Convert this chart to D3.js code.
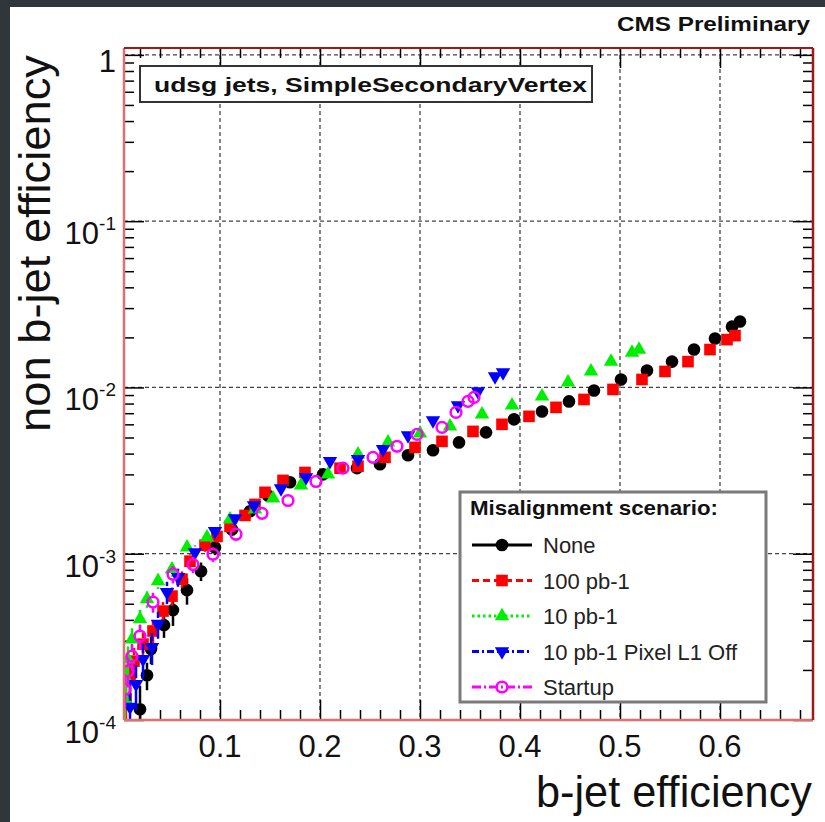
<!DOCTYPE html>
<html>
<head>
<meta charset="utf-8">
<script src="https://cdnjs.cloudflare.com/ajax/libs/d3/7.8.5/d3.min.js"></script>
<style>
  html, body { margin: 0; padding: 0; background: #fff; }
  svg { display: block; }
  text { font-family: "Liberation Sans", Arial, Helvetica, sans-serif; }
</style>
</head>
<body>
<svg id="chart" width="825" height="822"></svg>
<script>
// ---- data: b-jet efficiency vs. light (udsg) mistag rate, SimpleSecondaryVertex ----
const scenarios = ["None", "100 pb-1", "10 pb-1", "10 pb-1 Pixel L1 Off", "Startup"];
const scenarioColors = ["#000000", "#ff0000", "#00ee00", "#0000ff", "#ff00ff"];
const scenarioDash = [null, "7,4", "2.5,3", "7,3,2,3", "9,3,2,3"];

const effNone = [0.020, 0.027, 0.031, 0.044, 0.053, 0.067, 0.081, 0.095, 0.112, 0.130, 0.148, 0.170, 0.203, 0.237, 0.260,
                 0.288, 0.313, 0.339, 0.366, 0.394, 0.422, 0.449, 0.474, 0.501, 0.527, 0.552, 0.574, 0.595, 0.612, 0.620];
const mistagNone = [1.16e-4, 1.86e-4, 2.67e-4, 3.72e-4, 4.58e-4, 6.04e-4, 7.85e-4, 1.09e-3, 1.40e-3, 1.80e-3, 2.24e-3, 2.69e-3, 3.00e-3, 3.27e-3, 3.45e-3,
                    3.91e-3, 4.19e-3, 4.67e-3, 5.37e-3, 6.43e-3, 7.17e-3, 8.24e-3, 9.59e-3, 1.117e-2, 1.265e-2, 1.43e-2, 1.69e-2, 1.97e-2, 2.32e-2, 2.49e-2];
const errNone = [0.45e-4, 0.35e-4, 0.5e-4, 0.6e-4, 0.9e-4, 1.1e-4, 1.0e-4, 1.1e-4, 1.2e-4, 1.3e-4, 1.4e-4, 1.5e-4, 1.6e-4, 1.7e-4, 1.7e-4,
                 1.8e-4, 1.9e-4, 2.0e-4, 2.2e-4, 2.4e-4, 2.6e-4, 2.8e-4, 3.0e-4, 3.2e-4, 3.4e-4, 3.7e-4, 4.0e-4, 4.4e-4, 4.8e-4, 5.0e-4];

const eff100 = [0.006, 0.010, 0.014, 0.023, 0.033, 0.043, 0.052, 0.062, 0.070, 0.085, 0.097, 0.110, 0.125, 0.135, 0.145, 0.163, 0.185,
                0.220, 0.238, 0.265, 0.295, 0.322, 0.353, 0.382, 0.409, 0.436, 0.464, 0.493, 0.522, 0.545, 0.568, 0.590, 0.607, 0.615];
const mistag100 = [1.34e-4, 1.84e-4, 2.26e-4, 2.86e-4, 3.43e-4, 4.52e-4, 5.56e-4, 7.03e-4, 9.02e-4, 1.125e-3, 1.27e-3, 1.46e-3, 1.70e-3, 1.98e-3, 2.34e-3, 2.76e-3, 3.08e-3,
                   3.27e-3, 3.36e-3, 3.80e-3, 4.36e-3, 4.74e-3, 5.44e-3, 6.00e-3, 6.70e-3, 7.59e-3, 8.47e-3, 9.73e-3, 1.117e-2, 1.248e-2, 1.43e-2, 1.69e-2, 1.94e-2, 2.05e-2];
const err100 = [0.4e-4, 0.4e-4, 0.45e-4, 0.5e-4, 0.55e-4, 0.6e-4, 0.7e-4, 0.8e-4, 0.9e-4, 1.0e-4, 1.1e-4, 1.2e-4, 1.3e-4, 1.4e-4, 1.5e-4, 1.6e-4, 1.7e-4,
                1.7e-4, 1.8e-4, 1.9e-4, 2.0e-4, 2.1e-4, 2.3e-4, 2.4e-4, 2.6e-4, 2.8e-4, 3.0e-4, 3.2e-4, 3.5e-4, 3.7e-4, 4.0e-4, 4.4e-4, 4.7e-4, 4.9e-4];

const eff10 = [0.005, 0.006, 0.008, 0.012, 0.020, 0.027, 0.038, 0.052, 0.067, 0.087, 0.110, 0.135, 0.153, 0.181, 0.208,
               0.238, 0.268, 0.300, 0.330, 0.362, 0.392, 0.422, 0.448, 0.471, 0.491, 0.512, 0.519];
const mistag10 = [1.34e-4, 1.76e-4, 2.32e-4, 3.06e-4, 4.04e-4, 5.33e-4, 6.84e-4, 8.07e-4, 1.094e-3, 1.256e-3, 1.61e-3, 1.85e-3, 2.15e-3, 2.58e-3, 3.00e-3,
                  3.96e-3, 4.67e-3, 5.30e-3, 5.83e-3, 6.89e-3, 7.80e-3, 8.83e-3, 1.072e-2, 1.248e-2, 1.43e-2, 1.62e-2, 1.69e-2];
const err10 = [0.35e-4, 0.4e-4, 0.45e-4, 0.5e-4, 0.55e-4, 0.6e-4, 0.7e-4, 0.8e-4, 0.9e-4, 1.0e-4, 1.1e-4, 1.2e-4, 1.3e-4, 1.5e-4, 1.6e-4,
               1.8e-4, 2.0e-4, 2.2e-4, 2.4e-4, 2.6e-4, 2.8e-4, 3.0e-4, 3.3e-4, 3.6e-4, 3.9e-4, 4.2e-4, 4.4e-4];

const effL1Off = [0.010, 0.016, 0.023, 0.032, 0.038, 0.047, 0.058, 0.075, 0.095, 0.115, 0.134, 0.161, 0.186, 0.210, 0.238,
                  0.263, 0.288, 0.313, 0.338, 0.358, 0.375, 0.383];
const mistagL1Off = [1.20e-4, 1.64e-4, 2.32e-4, 2.74e-4, 3.78e-4, 5.88e-4, 7.23e-4, 1.02e-3, 1.365e-3, 1.63e-3, 1.95e-3, 2.47e-3, 2.88e-3, 3.60e-3, 3.70e-3,
                     4.25e-3, 5.15e-3, 6.34e-3, 7.80e-3, 9.46e-3, 1.164e-2, 1.23e-2];
const errL1Off = [0.5e-4, 0.5e-4, 0.55e-4, 0.6e-4, 0.7e-4, 0.9e-4, 0.9e-4, 1.0e-4, 1.1e-4, 1.2e-4, 1.3e-4, 1.5e-4, 1.6e-4, 1.8e-4, 1.9e-4,
                  2.1e-4, 2.3e-4, 2.6e-4, 2.9e-4, 3.2e-4, 3.6e-4, 3.8e-4];

const effStartup = [0.005, 0.008, 0.012, 0.020, 0.033, 0.053, 0.073, 0.093, 0.116, 0.142, 0.168, 0.196, 0.223, 0.253,
                    0.277, 0.297, 0.322, 0.336, 0.348, 0.354];
const mistagStartup = [1.53e-4, 1.97e-4, 2.42e-4, 3.20e-4, 5.12e-4, 7.53e-4, 8.6e-4, 9.93e-4, 1.31e-3, 1.75e-3, 2.09e-3, 2.72e-3, 3.27e-3, 3.80e-3,
                       4.43e-3, 5.22e-3, 5.75e-3, 7.08e-3, 8.24e-3, 8.71e-3];
const errStartup = [0.35e-4, 0.4e-4, 0.45e-4, 0.55e-4, 0.7e-4, 0.9e-4, 0.95e-4, 1.0e-4, 1.2e-4, 1.3e-4, 1.5e-4, 1.7e-4, 1.8e-4, 2.0e-4,
                    2.2e-4, 2.4e-4, 2.5e-4, 2.8e-4, 3.0e-4, 3.1e-4];

// axis tick labels
const xTickValues = [0.1, 0.2, 0.3, 0.4, 0.5, 0.6];
const xTickLabels = ["0.1", "0.2", "0.3", "0.4", "0.5", "0.6"];
const yTickValues = [1e-4, 1e-3, 1e-2, 1e-1, 1];
const yTickBase = ["10", "10", "10", "10", "1"];
const yTickExp = ["-4", "-3", "-2", "-1", ""];

// ---- layout ----
const W = 825, H = 822;
const frame = { left: 124, right: 813, top: 48, bottom: 720 };
const x = d3.scaleLinear().domain([0.004, 0.693]).range([frame.left, frame.right]);
const y = d3.scaleLog().domain([1e-4, 1.1]).range([frame.bottom, frame.top]);

const svg = d3.select("#chart");
svg.append("rect").attr("width", W).attr("height", H).attr("fill", "#fff");
// dark slide edges
svg.append("rect").attr("x", 0).attr("y", 0).attr("width", W).attr("height", 7).attr("fill", "#30363a");
svg.append("rect").attr("x", 0).attr("y", 0).attr("width", 10).attr("height", H).attr("fill", "#30363a");

svg.append("defs").append("clipPath").attr("id", "plotClip")
  .append("rect")
  .attr("x", frame.left).attr("y", frame.top)
  .attr("width", frame.right - frame.left).attr("height", frame.bottom - frame.top);

// ---- grid ----
const grid = svg.append("g").attr("stroke", "#444").attr("stroke-width", 1.3).attr("stroke-dasharray", "4,3");
grid.selectAll("line.gx").data(xTickValues).join("line")
  .attr("x1", d => x(d)).attr("x2", d => x(d))
  .attr("y1", frame.top).attr("y2", frame.bottom);
grid.selectAll("line.gy").data(yTickValues.filter(v => v > 1e-4)).join("line")
  .attr("x1", frame.left).attr("x2", frame.right)
  .attr("y1", d => y(d)).attr("y2", d => y(d));

// ---- ticks (all four sides, pointing inward) ----
const xMinor = x.ticks(35).filter(v => !xTickValues.some(m => Math.abs(m - v) < 1e-9));
const yMinor = y.ticks().filter(v => !yTickValues.some(m => Math.abs(m - v) / m < 1e-9));

function styleAxis(g) {
  g.select(".domain").remove();
  g.selectAll("line").attr("stroke", "#000").attr("stroke-width", 1.5);
  g.selectAll("text").remove();
}
const axes = svg.append("g");
axes.append("g").attr("transform", `translate(0,${frame.bottom})`)
  .call(d3.axisBottom(x).tickValues(xTickValues).tickSize(-20).tickFormat("")).call(styleAxis);
axes.append("g").attr("transform", `translate(0,${frame.bottom})`)
  .call(d3.axisBottom(x).tickValues(xMinor).tickSize(-10).tickFormat("")).call(styleAxis);
axes.append("g").attr("transform", `translate(0,${frame.top})`)
  .call(d3.axisTop(x).tickValues(xTickValues).tickSize(-20).tickFormat("")).call(styleAxis);
axes.append("g").attr("transform", `translate(0,${frame.top})`)
  .call(d3.axisTop(x).tickValues(xMinor).tickSize(-10).tickFormat("")).call(styleAxis);
axes.append("g").attr("transform", `translate(${frame.left},0)`)
  .call(d3.axisLeft(y).tickValues(yTickValues).tickSize(-20).tickFormat("")).call(styleAxis);
axes.append("g").attr("transform", `translate(${frame.left},0)`)
  .call(d3.axisLeft(y).tickValues(yMinor).tickSize(-10).tickFormat("")).call(styleAxis);
axes.append("g").attr("transform", `translate(${frame.right},0)`)
  .call(d3.axisRight(y).tickValues(yTickValues).tickSize(-20).tickFormat("")).call(styleAxis);
axes.append("g").attr("transform", `translate(${frame.right},0)`)
  .call(d3.axisRight(y).tickValues(yMinor).tickSize(-10).tickFormat("")).call(styleAxis);

// ---- tick labels ----
svg.append("g").selectAll("text").data(xTickValues).join("text")
  .attr("x", d => x(d)).attr("y", frame.bottom + 37)
  .attr("text-anchor", "middle").attr("font-size", 31).attr("fill", "#111")
  .text((d, i) => xTickLabels[i]);

const yLab = svg.append("g").selectAll("text").data(yTickValues).join("text")
  .attr("x", 116)
  .attr("y", (d, i) => y(d) + (yTickExp[i] ? 23 : 17.5))
  .attr("text-anchor", "end").attr("font-size", 31).attr("fill", "#111");
yLab.append("tspan").text((d, i) => yTickBase[i]);
yLab.filter((d, i) => yTickExp[i] !== "").append("tspan")
  .attr("dy", -14).attr("font-size", 19)
  .text(d => yTickExp[yTickValues.indexOf(d)]);

// ---- data points ----
const series = scenarios.map((name, i) => ({
  name,
  color: scenarioColors[i],
  eff: [effNone, eff100, eff10, effL1Off, effStartup][i],
  mistag: [mistagNone, mistag100, mistag10, mistagL1Off, mistagStartup][i],
  err: [errNone, err100, err10, errL1Off, errStartup][i],
  marker: ["circle", "square", "triangle", "triangleDown", "openCircle"][i]
}));

function markerPath(kind) {
  if (kind === "circle") return d3.symbol().type(d3.symbolCircle).size(125)();
  if (kind === "square") return d3.symbol().type(d3.symbolSquare).size(135)();
  if (kind === "triangle" || kind === "triangleDown") return d3.symbol().type(d3.symbolTriangle).size(90)();
  return d3.symbol().type(d3.symbolCircle).size(90)();
}
function drawMarker(sel, kind, color) {
  const p = sel.append("path").attr("d", markerPath(kind));
  if (kind === "openCircle") {
    p.attr("fill", "none").attr("stroke", color).attr("stroke-width", 2.5);
  } else {
    p.attr("fill", color);
  }
  if (kind === "triangleDown") p.attr("transform", "rotate(180)");
  return p;
}

const plot = svg.append("g").attr("clip-path", "url(#plotClip)");
series.forEach(s => {
  const g = plot.append("g");
  const pts = s.eff.map((e, k) => ({ e, m: s.mistag[k], err: s.err[k] }));
  const gap = 6;
  // vertical error bars, interrupted at the marker
  g.selectAll("line.up").data(pts).join("line")
    .attr("x1", d => x(d.e)).attr("x2", d => x(d.e))
    .attr("y1", d => y(d.m + d.err)).attr("y2", d => Math.max(y(d.m + d.err), y(d.m) - gap))
    .attr("stroke", s.color).attr("stroke-width", 2.5);
  g.selectAll("line.dn").data(pts).join("line")
    .attr("x1", d => x(d.e)).attr("x2", d => x(d.e))
    .attr("y1", d => Math.min(y(Math.max(d.m - d.err, 1e-5)), y(d.m) + gap))
    .attr("y2", d => y(Math.max(d.m - d.err, 1e-5)))
    .attr("stroke", s.color).attr("stroke-width", 2.5);
  g.selectAll("g.pt").data(pts).join("g")
    .attr("transform", d => `translate(${x(d.e)},${y(d.m)})`)
    .each(function () { drawMarker(d3.select(this), s.marker, s.color); });
});

// ---- frame ----
const fr = svg.append("g").attr("fill", "none");
fr.append("line").attr("x1", frame.left).attr("x2", frame.left).attr("y1", frame.top).attr("y2", frame.bottom)
  .attr("stroke", "#e07070").attr("stroke-width", 2.5);
fr.append("line").attr("x1", frame.left).attr("x2", frame.right).attr("y1", frame.bottom).attr("y2", frame.bottom)
  .attr("stroke", "#e07070").attr("stroke-width", 2.5);
fr.append("line").attr("x1", frame.left).attr("x2", frame.right).attr("y1", frame.top).attr("y2", frame.top)
  .attr("stroke", "#9e1a1a").attr("stroke-width", 2);
fr.append("line").attr("x1", frame.right).attr("x2", frame.right).attr("y1", frame.top).attr("y2", frame.bottom)
  .attr("stroke", "#9e1a1a").attr("stroke-width", 2.5);

// ---- header texts ----
svg.append("text").attr("x", 810).attr("y", 31).attr("text-anchor", "end")
  .attr("font-size", 21).attr("font-weight", "bold").attr("fill", "#111")
  .attr("textLength", 193).attr("lengthAdjust", "spacingAndGlyphs")
  .text("CMS Preliminary");

svg.append("rect").attr("x", 140).attr("y", 66).attr("width", 452).attr("height", 36)
  .attr("fill", "#fff").attr("stroke", "#333").attr("stroke-width", 2);
svg.append("text").attr("x", 154).attr("y", 92)
  .attr("font-size", 21).attr("font-weight", "bold").attr("fill", "#111")
  .attr("textLength", 433).attr("lengthAdjust", "spacingAndGlyphs")
  .text("udsg jets, SimpleSecondaryVertex");

// ---- axis titles ----
svg.append("text").attr("x", 812).attr("y", 807).attr("text-anchor", "end")
  .attr("font-size", 45).attr("fill", "#111")
  .attr("textLength", 276).attr("lengthAdjust", "spacingAndGlyphs")
  .text("b-jet efficiency");
svg.append("text").attr("transform", "translate(50,55) rotate(-90)").attr("text-anchor", "end")
  .attr("font-size", 45).attr("fill", "#111")
  .attr("textLength", 377).attr("lengthAdjust", "spacingAndGlyphs")
  .text("non b-jet efficiency");

// ---- legend ----
const legend = svg.append("g");
legend.append("rect").attr("x", 460).attr("y", 492).attr("width", 306).attr("height", 210)
  .attr("fill", "#fff").attr("stroke", "#7a7a7a").attr("stroke-width", 3);
legend.append("text").attr("x", 470).attr("y", 515)
  .attr("font-size", 21).attr("font-weight", "bold").attr("fill", "#111")
  .attr("textLength", 248).attr("lengthAdjust", "spacingAndGlyphs")
  .text("Misalignment scenario:");
const rowY = d3.scalePoint().domain(scenarios).range([545, 687]);
const rows = legend.selectAll("g.row").data(series).join("g")
  .attr("transform", d => `translate(0,${rowY(d.name)})`);
rows.append("line").attr("x1", 472).attr("x2", 532).attr("y1", 0).attr("y2", 0)
  .attr("stroke", d => d.color).attr("stroke-width", 3)
  .attr("stroke-dasharray", (d, i) => scenarioDash[i]);
rows.each(function (d) {
  const m = d3.select(this).append("g").attr("transform", "translate(502,0)");
  drawMarker(m, d.marker, d.color);
});
rows.append("text").attr("x", 543).attr("y", 8)
  .attr("font-size", 22).attr("fill", "#222")
  .text(d => d.name);
</script>
</body>
</html>
